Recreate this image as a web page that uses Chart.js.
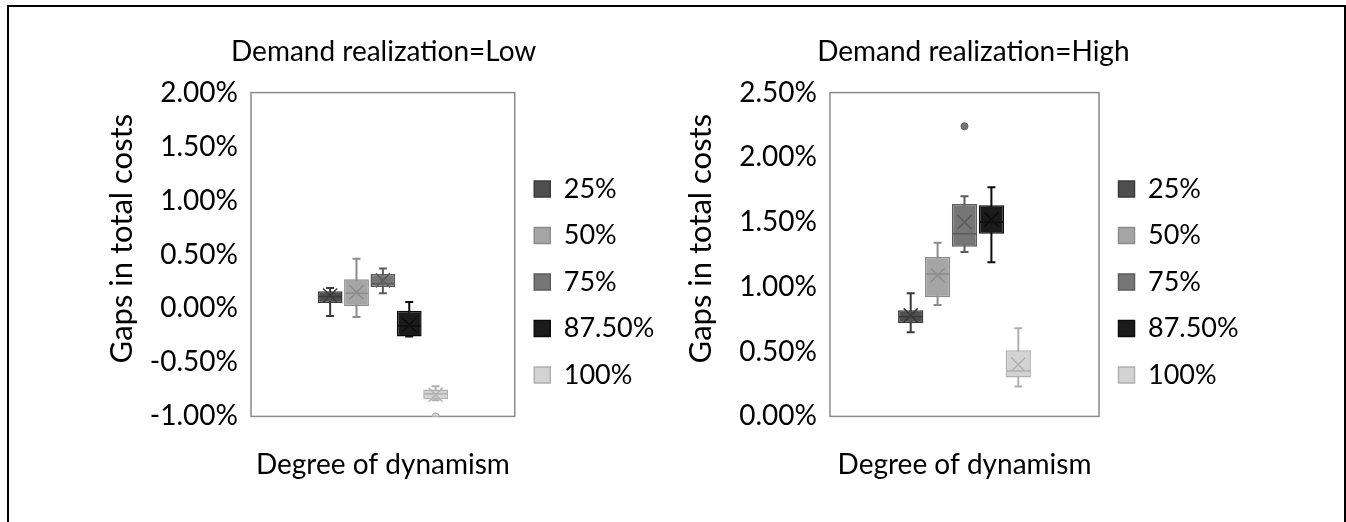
<!DOCTYPE html>
<html>
<head>
  <title>Gaps in total costs</title>
  <script src="https://cdn.jsdelivr.net/npm/chart.js"></script>
  <style>
    body { margin: 0; background: #fff; overflow: hidden; font-family: Lato, sans-serif; }
    .frame { position: absolute; left: 7px; top: 5px; width: 1335px; height: 600px; border: 2px solid #000; border-bottom: none; }
    .box { position: absolute; top: 0; width: 673px; height: 560px; }
    #low-box { left: 0; }
    #high-box { left: 579px; }
  </style>
</head>
<body>
  <div class="frame"></div>
  <div class="box" id="low-box"><canvas id="low-chart"></canvas></div>
  <div class="box" id="high-box"><canvas id="high-chart"></canvas></div>
  <script>
    const groups = ['25%', '50%', '75%', '87.50%', '100%'];
    const fills = ['#4f4f4f', '#a5a5a5', '#767676', '#1b1b1b', '#d3d3d3'];
    const edges = ['#3a3a3a', '#8c8c8c', '#5c5c5c', '#0c0c0c', '#b0b0b0'];

    // Demand realization = Low (gaps in %)
    const lowMin = [-0.07, -0.08, 0.14, -0.26, -0.85];
    const lowQ1 = [0.05, 0.02, 0.20, -0.26, -0.84];
    const lowMedian = [0.11, 0.14, 0.23, -0.16, -0.79];
    const lowMean = [0.12, 0.15, 0.26, -0.15, -0.80];
    const lowQ3 = [0.16, 0.27, 0.32, -0.02, -0.75];
    const lowMax = [0.19, 0.46, 0.37, 0.06, -0.72];
    const lowOutliers = [[], [], [], [], [-1.00]];

    // Demand realization = High (gaps in %)
    const highMin = [0.65, 0.86, 1.27, 1.19, 0.23];
    const highQ1 = [0.72, 0.92, 1.31, 1.41, 0.30];
    const highMedian = [0.77, 1.10, 1.41, 1.50, 0.35];
    const highMean = [0.78, 1.09, 1.50, 1.52, 0.40];
    const highQ3 = [0.82, 1.23, 1.64, 1.63, 0.51];
    const highMax = [0.95, 1.34, 1.70, 1.77, 0.68];
    const highOutliers = [[], [], [2.24], [], []];

    const font = 'Lato';

    // whiskers, medians, means and outliers on top of the floating bars
    const boxPlot = {
      id: 'boxPlot',
      beforeDatasetsDraw(chart) {
        const {ctx, chartArea: a, scales: {y}} = chart;
        ctx.save();
        ctx.strokeStyle = '#8a8a8a';
        ctx.lineWidth = 1.5;
        ctx.strokeRect(a.left, a.top, a.right - a.left, a.bottom - a.top);
        chart.data.datasets.forEach((ds, i) => {
          const bar = chart.getDatasetMeta(i).data[0];
          const s = ds.stats;
          ctx.strokeStyle = edges[i];
          ctx.lineWidth = 2;
          ctx.beginPath();
          ctx.moveTo(bar.x, y.getPixelForValue(s.max));
          ctx.lineTo(bar.x, y.getPixelForValue(s.min));
          ctx.moveTo(bar.x - 4, y.getPixelForValue(s.max));
          ctx.lineTo(bar.x + 4, y.getPixelForValue(s.max));
          ctx.moveTo(bar.x - 4, y.getPixelForValue(s.min));
          ctx.lineTo(bar.x + 4, y.getPixelForValue(s.min));
          ctx.stroke();
        });
        ctx.restore();
      },
      afterDatasetsDraw(chart) {
        const {ctx, chartArea: a, scales: {y}} = chart;
        ctx.save();
        ctx.beginPath();
        ctx.rect(a.left, a.top, a.right - a.left, a.bottom - a.top);
        ctx.clip();
        chart.data.datasets.forEach((ds, i) => {
          const bar = chart.getDatasetMeta(i).data[0];
          const s = ds.stats;
          const half = bar.width / 2 - 1;
          ctx.strokeStyle = edges[i];
          ctx.lineWidth = 1.5;
          ctx.beginPath();
          const ym = y.getPixelForValue(s.median);
          ctx.moveTo(bar.x - half, ym);
          ctx.lineTo(bar.x + half, ym);
          const yx = y.getPixelForValue(s.mean);
          ctx.moveTo(bar.x - 7, yx - 7);
          ctx.lineTo(bar.x + 7, yx + 7);
          ctx.moveTo(bar.x + 7, yx - 7);
          ctx.lineTo(bar.x - 7, yx + 7);
          ctx.stroke();
          s.outliers.forEach(v => {
            ctx.fillStyle = fills[i];
            ctx.strokeStyle = edges[i];
            ctx.lineWidth = 1;
            ctx.beginPath();
            ctx.arc(bar.x, y.getPixelForValue(v), 3.5, 0, Math.PI * 2);
            ctx.fill();
            ctx.stroke();
          });
        });
        ctx.restore();
      }
    };

    function makeChart(id, title, yMin, yMax, q1, q3, min, median, mean, max, outliers, padRight) {
      const datasets = groups.map((g, i) => ({
        label: g,
        data: [[q1[i], q3[i]]],
        backgroundColor: fills[i],
        borderColor: edges[i],
        borderWidth: 1.5,
        borderSkipped: false,
        categoryPercentage: 0.5,
        barPercentage: 0.94,
        stats: {min: min[i], median: median[i], mean: mean[i], max: max[i], outliers: outliers[i]}
      }));
      return new Chart(document.getElementById(id), {
        type: 'bar',
        data: {labels: [''], datasets: datasets},
        plugins: [boxPlot],
        options: {
          responsive: true,
          maintainAspectRatio: false,
          animation: false,
          layout: {padding: {left: 100, right: padRight, top: 0, bottom: 78}},
          plugins: {
            title: {
              display: true,
              text: title,
              color: '#000',
              font: {family: font, size: 28, weight: 'normal'},
              padding: {top: 35, bottom: 24}
            },
            legend: {
              position: 'right',
              fullSize: false,
              title: {display: true, text: ' ', font: {size: 10}, padding: {top: 20, bottom: 23}},
              labels: {
                color: '#000',
                font: {family: font, size: 27},
                boxWidth: 16,
                boxHeight: 16,
                padding: 19.5
              }
            },
            tooltip: {enabled: false}
          },
          scales: {
            x: {
              grid: {display: false, drawTicks: false},
              border: {display: false},
              ticks: {display: false},
              title: {
                display: true,
                text: 'Degree of dynamism',
                color: '#000',
                font: {family: font, size: 28},
                padding: {top: 32, bottom: 0}
              }
            },
            y: {
              min: yMin,
              max: yMax,
              grid: {display: false, drawTicks: false},
              border: {display: false},
              afterFit: scale => { scale.width = 151; },
              ticks: {
                stepSize: 0.5,
                padding: 13,
                color: '#000',
                font: {family: font, size: 28},
                callback: v => v.toFixed(2) + '%'
              },
              title: {
                display: true,
                text: '    Gaps in total costs',
                color: '#000',
                font: {family: font, size: 31},
                padding: {top: 3, bottom: 0}
              }
            }
          }
        }
      });
    }

    makeChart('low-chart', '  Demand realization=Low', -1, 2,
      lowQ1, lowQ3, lowMin, lowMedian, lowMean, lowMax, lowOutliers, 20);
    makeChart('high-chart', '    Demand realization=High', 0, 2.5,
      highQ1, highQ3, highMin, highMedian, highMean, highMax, highOutliers, 13);
  </script>
</body>
</html>
